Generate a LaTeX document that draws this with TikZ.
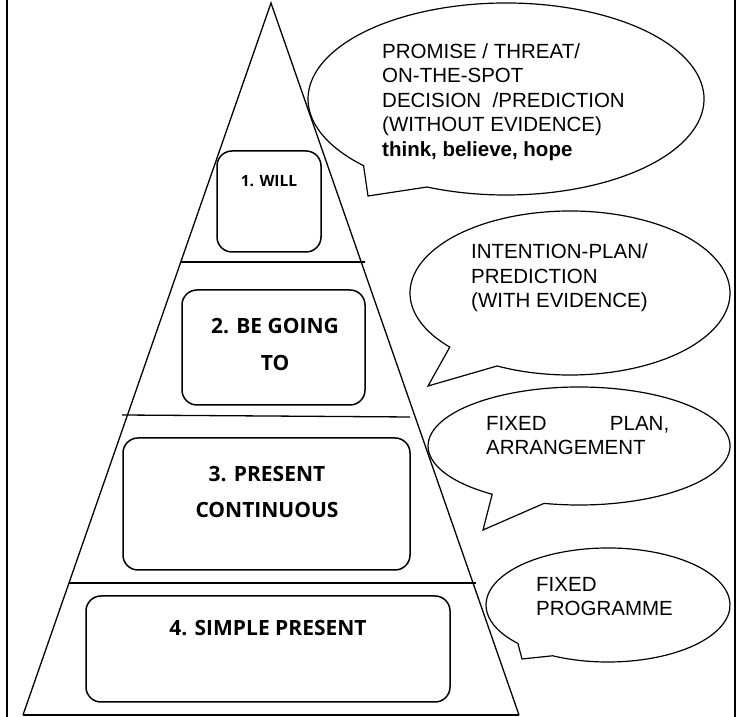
\documentclass[tikz,border=0pt]{standalone}
\usepackage{fontspec}
\setmainfont{Liberation Sans}
\newfontfamily\tensefont{Open Sans}
\usetikzlibrary{calc}

\begin{document}
\begin{tikzpicture}[x=1pt, y=1pt,
    tensebox/.style={draw, rounded corners=15pt, line width=1.5pt, inner sep=0pt},
    tenselabel/.style={font=\tensefont\bfseries\fontsize{21}{37}\selectfont, align=center, inner sep=0pt},
    bubble/.style={draw, line width=1.2pt, line join=miter},
    bubbletext/.style={font=\fontsize{20.5}{24.5}\selectfont, align=left, anchor=west, inner sep=0pt},
    divider/.style={line width=1.3pt}]
    \useasboundingbox (0,0) rectangle (742,717);

    % Frame:
    % only the two side lines of the cell are shown
    \draw [line width=2pt] (7,0) -- (7,717);
    \draw [line width=2pt] (735,0) -- (735,717);

    % Pyramid:
    \coordinate (apex) at (271,714);
    \coordinate (baseL) at (23,2);
    \coordinate (baseR) at (519,2);
    \draw [line width=1.3pt] (baseL) -- (apex) -- (baseR);
    \draw [line width=2pt] (baseL) -- (baseR);

    % levels
    \draw [divider] (181,455) -- (365,455);
    \draw [divider] (122,302) -- (410,300);
    \draw [divider] (69,134) -- (476,134);

    % Tense boxes:
    \node [tensebox, minimum width=104pt, minimum height=101pt] (will) at (269,515.5) {};
    \node [tensebox, minimum width=183pt, minimum height=115pt] (going) at (273.5,369.5) {};
    \node [tensebox, minimum width=287pt, minimum height=132pt] (contin) at (266.5,213) {};
    \node [tensebox, minimum width=364pt, minimum height=106pt] (simple) at (268,68) {};

    \node [tenselabel, font=\tensefont\bfseries\fontsize{15.5}{18}\selectfont] (willtext) at (269,536) {1. WILL};
    \node [tenselabel] (goingtext) at (275,373) {2. BE GOING\\TO};
    \node [tenselabel, font=\tensefont\bfseries\fontsize{21}{36}\selectfont] (contintext) at (267,225) {3. PRESENT\\CONTINUOUS};
    \node [tenselabel] (simpletext) at (268,89) {4. SIMPLE PRESENT};

    % Speech bubbles:
    % ellipse arc plus a pointed tail
    \coordinate (c1) at (506,618);
    \coordinate (tip1) at (368,521);
    \draw [bubble] ($(c1)+(224:198pt and 96pt)$) -- (tip1) -- ($(c1)+(246.5:198pt and 96pt)$)
        arc [start angle=246.5, end angle=584, x radius=198pt, y radius=96pt] -- cycle;

    \coordinate (c2) at (570,424);
    \coordinate (tip2) at (428,331);
    \draw [bubble] ($(c2)+(221.3:160pt and 82pt)$) -- (tip2) -- ($(c2)+(242.9:160pt and 82pt)$)
        arc [start angle=242.9, end angle=581.3, x radius=160pt, y radius=82pt] -- cycle;

    \coordinate (c3) at (579,271);
    \coordinate (tip3) at (483,187);
    \draw [bubble] ($(c3)+(234.9:151pt and 59pt)$) -- (tip3) -- ($(c3)+(256.6:151pt and 59pt)$)
        arc [start angle=256.6, end angle=594.9, x radius=151pt, y radius=59pt] -- cycle;

    \coordinate (c4) at (608,112);
    \coordinate (tip4) at (522,58);
    \draw [bubble] ($(c4)+(222.4:122pt and 57pt)$) -- (tip4) -- ($(c4)+(243:122pt and 57pt)$)
        arc [start angle=243, end angle=582.4, x radius=122pt, y radius=57pt] -- cycle;

    % bubble texts
    \node [bubbletext] (text1) at (382,615) {PROMISE / THREAT/\\ON-THE-SPOT\\DECISION\ \ /PREDICTION\\(WITHOUT EVIDENCE)\\\textbf{think, believe, hope}};
    \node [bubbletext] (text2) at (471,439) {INTENTION-PLAN/\\PREDICTION\\(WITH EVIDENCE)};
    \node [bubbletext, font=\fontsize{20.5}{24}\selectfont] (text3) at (486,281) {\makebox[183pt][l]{FIXED\hfill PLAN,}\\ARRANGEMENT};
    \node [bubbletext, font=\fontsize{20.5}{23.5}\selectfont] (text4) at (536,120.5) {FIXED\\PROGRAMME};

\end{tikzpicture}
\end{document}
